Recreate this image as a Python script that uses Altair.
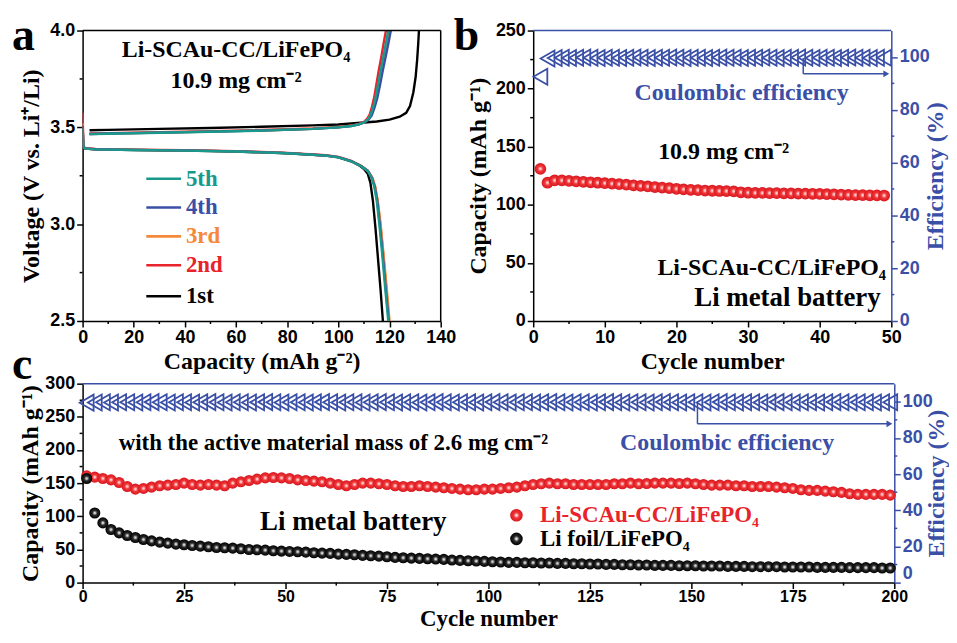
import altair as alt
import pandas as pd

BLUE = "#3a4fa6"
TEAL = "#18998b"
ORANGE = "#f6883a"
RED = "#e8232a"
BLACK = "#000000"
SERIF = "Liberation Serif"
SANS = "Liberation Sans"

# ------------------------------------------------------------------ data
# panel a : charge / discharge voltage profiles (capacity, voltage)
cycle_names = ["1st", "2nd", "3rd", "4th", "5th"]
cycle_colors = [BLACK, RED, ORANGE, BLUE, TEAL]

charge_cap = {
    "1st": [2.7, 10, 30, 50, 70, 90, 100, 110, 115, 120, 124, 126.5, 128, 129.3, 130.2, 130.8, 131.2, 131.5],
    "2nd": [2.7, 10, 30, 50, 70, 90, 100, 105, 108, 110, 111.3, 112.2, 113.1, 114.0, 114.9, 115.8, 116.8, 117.7, 118.6],
    "3rd": [2.7, 10, 30, 50, 70, 90, 100, 105, 108, 110, 111.6, 112.7, 113.7, 114.7, 115.7, 116.7, 117.8, 118.8, 119.8],
    "4th": [2.7, 10, 30, 50, 70, 90, 100, 105, 108, 110, 111.8, 113.0, 114.1, 115.2, 116.3, 117.3, 118.4, 119.5, 120.5],
    "5th": [2.7, 10, 30, 50, 70, 90, 100, 105, 108, 110, 111.5, 112.5, 113.5, 114.5, 115.5, 116.5, 117.5, 118.5, 119.5],
}
charge_volt = {
    "1st": [3.485, 3.487, 3.492, 3.497, 3.503, 3.510, 3.515, 3.525, 3.530, 3.540, 3.555, 3.575, 3.610, 3.680, 3.760, 3.850, 3.930, 4.000],
    "2nd": [3.468, 3.470, 3.475, 3.480, 3.486, 3.494, 3.502, 3.509, 3.518, 3.528, 3.545, 3.565, 3.605, 3.655, 3.725, 3.795, 3.865, 3.935, 4.000],
    "3rd": [3.466, 3.468, 3.473, 3.478, 3.484, 3.493, 3.501, 3.508, 3.516, 3.526, 3.541, 3.561, 3.601, 3.651, 3.721, 3.791, 3.861, 3.931, 4.000],
    "4th": [3.466, 3.468, 3.473, 3.478, 3.484, 3.492, 3.500, 3.507, 3.515, 3.525, 3.540, 3.560, 3.600, 3.650, 3.720, 3.790, 3.860, 3.930, 4.000],
    "5th": [3.465, 3.467, 3.472, 3.477, 3.483, 3.492, 3.500, 3.507, 3.515, 3.525, 3.540, 3.560, 3.600, 3.650, 3.720, 3.790, 3.860, 3.930, 4.000],
}
discharge_cap = {
    "1st": [0, 0.3, 1, 5, 20, 40, 60, 80, 95, 100, 105, 108, 110, 111.5, 112.5, 113.5, 114.5, 115.5, 116.5, 117.4],
    "2nd": [0, 0.3, 1, 5, 20, 40, 60, 80, 95, 100, 105, 109, 111.5, 113.2, 114.3, 115.3, 116.4, 117.5, 118.7, 119.8],
    "3rd": [0, 0.3, 1, 5, 20, 40, 60, 80, 95, 100, 105, 109, 111.6, 113.3, 114.4, 115.4, 116.5, 117.6, 118.9, 120.0],
    "4th": [0, 0.3, 1, 5, 20, 40, 60, 80, 95, 100, 105, 109, 111.5, 113.1, 114.2, 115.2, 116.2, 117.3, 118.5, 119.7],
    "5th": [0, 0.3, 1, 5, 20, 40, 60, 80, 95, 100, 105, 109, 111.5, 113.0, 114.0, 115.0, 116.0, 117.1, 118.3, 119.5],
}
discharge_volt = {
    "1st": [3.500, 3.400, 3.390, 3.386, 3.383, 3.380, 3.375, 3.366, 3.354, 3.345, 3.325, 3.305, 3.285, 3.260, 3.215, 3.120, 2.980, 2.820, 2.660, 2.500],
    "2nd": [3.575, 3.400, 3.392, 3.388, 3.385, 3.382, 3.377, 3.368, 3.356, 3.347, 3.327, 3.300, 3.275, 3.240, 3.195, 3.120, 3.000, 2.850, 2.670, 2.500],
    "3rd": [3.520, 3.400, 3.391, 3.387, 3.384, 3.381, 3.376, 3.367, 3.355, 3.346, 3.326, 3.299, 3.275, 3.240, 3.195, 3.120, 3.000, 2.850, 2.670, 2.500],
    "4th": [3.510, 3.400, 3.391, 3.387, 3.384, 3.381, 3.376, 3.367, 3.355, 3.346, 3.326, 3.299, 3.275, 3.240, 3.195, 3.120, 3.000, 2.850, 2.670, 2.500],
    "5th": [3.500, 3.400, 3.390, 3.386, 3.383, 3.380, 3.375, 3.366, 3.354, 3.345, 3.325, 3.298, 3.274, 3.240, 3.195, 3.120, 3.000, 2.850, 2.670, 2.500],
}
legend_a_order = ["5th", "4th", "3rd", "2nd", "1st"]

# panel b : 10.9 mg cm-2 cell, cycles 1-49
cycles_b = list(range(1, 50))
capacity_b = [131.0, 119.0, 121.0, 121.0, 120.6, 120.2, 119.8, 119.4, 119.0, 118.6,
              118.2, 117.8, 117.3, 116.8, 116.3, 115.8, 115.3, 114.8, 114.3, 113.8,
              113.3, 112.9, 112.6, 112.3, 112.1, 111.9, 111.8, 111.6, 110.8, 110.4,
              110.3, 110.2, 110.1, 110.0, 109.9, 109.8, 109.7, 109.6, 109.5, 109.4,
              109.2, 109.0, 108.8, 108.6, 108.4, 108.3, 108.2, 108.1, 108.0]
efficiency_b = [92.5, 99.4, 99.6, 99.7, 99.6, 99.7, 99.8, 99.7, 99.6, 99.7,
                99.7, 99.6, 99.7, 99.8, 99.7, 99.6, 99.7, 99.7, 99.8, 99.7,
                99.6, 99.7, 99.7, 99.6, 99.7, 99.8, 99.7, 99.7, 99.6, 99.7,
                99.7, 99.8, 99.7, 99.6, 99.7, 99.7, 99.8, 99.7, 99.6, 99.7,
                99.7, 99.6, 99.7, 99.8, 99.7, 99.7, 99.6, 99.7, 99.7]

# panel c : 2.6 mg cm-2 cells, every second cycle 1-199
cycles_c = list(range(1, 200, 2))
capacity_scau = [161, 159, 157, 155, 151, 145, 141, 142, 144, 146,
                 147, 148, 150, 148, 147, 148, 147, 146, 150, 152,
                 154, 156, 158, 158.5, 158, 157, 155, 154, 153, 152,
                 150, 148, 146, 148, 150, 150, 149, 148, 146, 145,
                 145, 146, 145, 144, 143, 142, 141, 140, 140, 141,
                 141, 142, 143, 144, 146, 148, 149, 150, 149, 149,
                 148, 148, 148, 148, 148, 149, 149, 150, 149, 149.5,
                 150, 150, 150, 149.5, 150, 149, 148, 147, 147, 147,
                 146, 146, 145, 145, 145, 144, 143, 142, 140, 139,
                 139, 138, 137, 136, 134, 133, 133, 133, 133, 132]
capacity_foil = [157, 105, 90, 80, 75, 71, 68, 65, 63, 61,
                 59.5, 58, 57, 56, 55, 54, 53, 52.5, 52, 51,
                 50, 49.5, 49, 48, 47.5, 47, 46.5, 46, 45, 44.5,
                 44, 43, 42.5, 42, 41, 40.5, 40, 39, 38, 37.5,
                 37, 36.5, 36, 35.5, 35, 34, 33.5, 33, 32.5, 32,
                 31.5, 31, 30.5, 30.5, 30, 30, 29.5, 29.5, 29, 29,
                 28.5, 28.5, 28, 28, 27.5, 27.5, 27, 27, 26.5, 26.5,
                 26, 26, 26, 25.5, 25.5, 25.5, 25, 25, 25, 24.5,
                 24.5, 24.5, 24, 24, 24, 24, 23.5, 23.5, 23.5, 23.5,
                 23, 23, 23, 23, 22.5, 22.5, 22.5, 22.5, 22, 22]
efficiency_c = [99.5, 99.6, 99.7, 99.6, 99.7, 99.7, 99.6, 99.7, 99.8, 99.7,
                99.6, 99.7, 99.7, 99.6, 99.7, 99.8, 99.7, 99.6, 99.7, 99.7,
                99.6, 99.7, 99.8, 99.7, 99.6, 99.7, 99.7, 99.6, 99.7, 99.8,
                99.7, 99.6, 99.7, 99.7, 99.6, 99.7, 99.8, 99.7, 99.6, 99.7,
                99.7, 99.6, 99.7, 99.8, 99.7, 99.6, 99.7, 99.7, 99.6, 99.7,
                99.8, 99.7, 99.6, 99.7, 99.7, 99.6, 99.7, 99.8, 99.7, 99.6,
                99.7, 99.7, 99.6, 99.7, 99.8, 99.7, 99.6, 99.7, 99.7, 99.6,
                99.7, 99.8, 99.7, 99.6, 99.7, 99.7, 99.6, 99.7, 99.8, 99.7,
                99.6, 99.7, 99.7, 99.6, 99.7, 99.8, 99.7, 99.6, 99.7, 99.7,
                99.6, 99.7, 99.8, 99.7, 99.6, 99.7, 99.7, 99.6, 99.7, 99.7]

series_c = ["Li-SCAu-CC/LiFePO\u2084", "Li foil/LiFePO\u2084"]

# axis ticks (major labelled, minor unlabelled)
ticks_a_x = [0, 20, 40, 60, 80, 100, 120, 140]
minor_a_x = [10, 30, 50, 70, 90, 110, 130]
ticks_a_y = [2.5, 3.0, 3.5, 4.0]
minor_a_y = [2.75, 3.25, 3.75]
ticks_b_x = [0, 10, 20, 30, 40, 50]
minor_b_x = [5, 15, 25, 35, 45]
ticks_b_y = [0, 50, 100, 150, 200, 250]
minor_b_y = [25, 75, 125, 175, 225]
ticks_eff = [0, 20, 40, 60, 80, 100]
minor_eff = [10, 30, 50, 70, 90]
ticks_c_x = [0, 25, 50, 75, 100, 125, 150, 175, 200]
minor_c_x = [12.5, 37.5, 62.5, 87.5, 112.5, 137.5, 162.5, 187.5]
ticks_c_y = [0, 50, 100, 150, 200, 250, 300]
minor_c_y = [25, 75, 125, 175, 225, 275]

# ------------------------------------------------------------------ helpers
W_A, H_A = 360, 292
W_B, H_B = 360, 292
W_C, H_C = 816, 200
TICK = 6
MINOR = 3


def mk_axis(values, title, orient, color=BLACK, fmt=None, title_pad=6,
            title_angle=None, title_size=24, label_size=18, label_pad=2, flush=False):
    kw = dict(values=values, orient=orient, title=title, grid=False,
              tickSize=TICK, labelOverlap=False, labelFlush=flush,
              domainColor=color, tickColor=color, labelColor=color, titleColor=color,
              domainWidth=1.5, tickWidth=1.5, labelPadding=label_pad, titlePadding=title_pad,
              labelFont=SANS, labelFontWeight="bold", labelFontSize=label_size,
              titleFont=SERIF, titleFontWeight="bold", titleFontSize=title_size)
    if fmt:
        kw["format"] = fmt
    if title_angle is not None:
        kw["titleAngle"] = title_angle
    return alt.Axis(**kw)


def qx(field, domain, axis):
    return alt.X(field, type="quantitative", scale=alt.Scale(domain=domain, nice=False, zero=False), axis=axis)


def qy(field, domain, axis):
    return alt.Y(field, type="quantitative", scale=alt.Scale(domain=domain, nice=False, zero=False), axis=axis)


def texts(rows, X, Y, size, color=BLACK, align="center"):
    return alt.Chart(pd.DataFrame(rows)).mark_text(
        font=SERIF, fontWeight="bold", fontSize=size, color=color, align=align, baseline="middle"
    ).encode(x=X("x"), y=Y("y"), text="t:N")


def letter(ch, px, py):
    return alt.Chart(pd.DataFrame({"t": [ch]})).mark_text(
        font=SERIF, fontWeight="bold", fontSize=46, align="left", baseline="alphabetic", color=BLACK
    ).encode(x=alt.value(px), y=alt.value(py), text="t:N")


def frame(color, x0, x1, y0, y1):
    return alt.Chart(pd.DataFrame({"k": [0]})).mark_rule(color=color, strokeWidth=1.5).encode(
        x=alt.value(x0), x2=alt.value(x1), y=alt.value(y0), y2=alt.value(y1))


def minor_x(vals, X, h, color=BLACK):
    return alt.Chart(pd.DataFrame({"v": vals})).mark_rule(color=color, strokeWidth=1.5).encode(
        x=X("v"), y=alt.value(h), y2=alt.value(h + MINOR))


def minor_y(vals, Y, x0, x1, color=BLACK):
    return alt.Chart(pd.DataFrame({"v": vals})).mark_rule(color=color, strokeWidth=1.5).encode(
        y=Y("v"), x=alt.value(x0), x2=alt.value(x1))


red_grad = alt.RadialGradient(gradient="radial", stops=[
    alt.GradientStop(offset=0.0, color="#ffffff"),
    alt.GradientStop(offset=0.18, color="#ffb3b3"),
    alt.GradientStop(offset=0.42, color="#f0383a"),
    alt.GradientStop(offset=1.0, color="#d8161e")])
black_grad = alt.RadialGradient(gradient="radial", stops=[
    alt.GradientStop(offset=0.0, color="#ffffff"),
    alt.GradientStop(offset=0.18, color="#bdbdbd"),
    alt.GradientStop(offset=0.42, color="#2a2a2a"),
    alt.GradientStop(offset=1.0, color="#000000")])

# ------------------------------------------------------------------ panel a
AX_AX = mk_axis(ticks_a_x, "Capacity (mAh g\u207b\u00b2)", "bottom", title_pad=3)
AX_AY = mk_axis(ticks_a_y, "Voltage (V vs. Li\u207a/Li)", "left", fmt=".1f", title_pad=6)
XA = lambda f: qx(f, [0, 140], AX_AX)
YA = lambda f: qy(f, [2.5, 4.0], AX_AY)

rows = []
for name in cycle_names:
    for seg, caps, volts in (("c", charge_cap[name], charge_volt[name]),
                             ("d", discharge_cap[name], discharge_volt[name])):
        for i, (c, v) in enumerate(zip(caps, volts)):
            rows.append({"cycle": name, "seg": name + seg, "idx": i, "cap": c, "volt": v})
df_a = pd.DataFrame(rows)

color_a = alt.Color("cycle:N", scale=alt.Scale(domain=cycle_names, range=cycle_colors), legend=None)

lines_a = alt.Chart(df_a).mark_line(strokeWidth=2.4, clip=True).encode(
    x=XA("cap"), y=YA("volt"), color=color_a, detail="seg:N", order="idx:Q")

leg_a = pd.DataFrame({"cycle": legend_a_order, "y": [3.235, 3.086, 2.937, 2.788, 2.628]})
leg_a["x0"] = 24.9
leg_a["x1"] = 38.5
leg_a["xt"] = 40.4
leg_lines_a = alt.Chart(leg_a).mark_rule(strokeWidth=2.6).encode(
    x=XA("x0"), x2="x1", y=YA("y"), color=color_a)
leg_text_a = alt.Chart(leg_a).mark_text(font=SERIF, fontWeight="bold", fontSize=23, align="left",
                                        baseline="middle").encode(
    x=XA("xt"), y=YA("y"), text="cycle:N", color=color_a)

ann_a = texts([{"x": 60, "y": 3.90, "t": "Li-SCAu-CC/LiFePO\u2084"},
               {"x": 60, "y": 3.74, "t": "10.9 mg cm\u207b\u00b2"}], XA, YA, 24)

panel_a = alt.layer(
    lines_a, leg_lines_a, leg_text_a, ann_a,
    minor_x(minor_a_x, XA, H_A), minor_y(minor_a_y, YA, -MINOR, 0),
    frame(BLACK, 0, W_A, 0, 0), frame(BLACK, W_A, W_A, 0, H_A),
    letter("a", -71, 20),
).properties(width=W_A, height=H_A)

# ------------------------------------------------------------------ panel b
AX_BX = mk_axis(ticks_b_x, "Cycle number", "bottom", title_pad=3)
AX_BY = mk_axis(ticks_b_y, "Capacity (mAh g\u207b\u00b9)", "left", title_pad=5)
AX_BE = mk_axis(ticks_eff, "Efficiency (%)", "right", color=BLUE, title_pad=18, title_angle=270)
XB = lambda f: qx(f, [0, 50], AX_BX)
YB = lambda f: qy(f, [0, 250], AX_BY)
EB = lambda f: qy(f, [0, 110], AX_BE)

df_b = pd.DataFrame({"cycle": cycles_b, "cap": capacity_b, "eff": efficiency_b})

circles_b = alt.Chart(df_b).mark_circle(size=140, fill=red_grad, opacity=1).encode(x=XB("cycle"), y=YB("cap"))
ann_b_cap = alt.layer(
    texts([{"x": 26.6, "y": 145.5, "t": "10.9 mg cm\u207b\u00b2"}], XB, YB, 24),
    texts([{"x": 33.3, "y": 45.4, "t": "Li-SCAu-CC/LiFePO\u2084"}], XB, YB, 24),
    texts([{"x": 35.5, "y": 19.7, "t": "Li metal battery"}], XB, YB, 27),
)
cap_layer_b = alt.layer(circles_b, ann_b_cap,
                        minor_x(minor_b_x, XB, H_B), minor_y(minor_b_y, YB, -MINOR, 0),
                        frame(BLUE, 0, W_B, 0, 0), letter("b", -80, 20))

tri_b = alt.Chart(df_b).mark_point(shape="triangle-left", filled=False, color=BLUE, size=260,
                                   strokeWidth=1.8, opacity=1).encode(x=XB("cycle"), y=EB("eff"))
arrow_b = pd.DataFrame({"x": [37.7], "ytop": [99.6], "ybot": [93.6], "xend": [49.0], "xhead": [49.3]})
arrow_b_v = alt.Chart(arrow_b).mark_rule(color=BLUE, strokeWidth=1.5).encode(
    x=XB("x"), y=EB("ytop"), y2="ybot")
arrow_b_h = alt.Chart(arrow_b).mark_rule(color=BLUE, strokeWidth=1.5).encode(
    x=XB("x"), x2="xend", y=EB("ybot"))
arrow_b_head = alt.Chart(arrow_b).mark_point(shape="triangle-right", filled=True, color=BLUE, size=45,
                                             opacity=1).encode(x=XB("xhead"), y=EB("ybot"))
ce_b = texts([{"x": 29.1, "y": 86.5, "t": "Coulombic efficiency"}], XB, EB, 24, color=BLUE)
eff_layer_b = alt.layer(tri_b, arrow_b_v, arrow_b_h, arrow_b_head, ce_b,
                        minor_y(minor_eff, EB, W_B, W_B + MINOR, BLUE))

panel_b = alt.layer(cap_layer_b, eff_layer_b).resolve_scale(y="independent").properties(width=W_B, height=H_B)

# ------------------------------------------------------------------ panel c
AX_CX = mk_axis(ticks_c_x, "Cycle number", "bottom", title_pad=3, title_size=23, label_size=16, label_pad=0)
AX_CY = mk_axis(ticks_c_y, "Capacity (mAh g\u207b\u00b9)", "left", title_pad=2)
AX_CE = mk_axis(ticks_eff, "Efficiency (%)", "right", color=BLUE, title_pad=16, title_angle=270, flush=True)
XC = lambda f: qx(f, [0, 200], AX_CX)
YC = lambda f: qy(f, [0, 300], AX_CY)
EC = lambda f: qy(f, [0, 110], AX_CE)

df_red = pd.DataFrame({"cycle": cycles_c, "cap": capacity_scau})
df_blk = pd.DataFrame({"cycle": cycles_c, "cap": capacity_foil})
df_ce = pd.DataFrame({"cycle": cycles_c, "eff": efficiency_c})

red_c = alt.Chart(df_red).mark_circle(size=125, fill=red_grad, opacity=1).encode(x=XC("cycle"), y=YC("cap"))
black_c = alt.Chart(df_blk).mark_circle(size=125, fill=black_grad, opacity=1).encode(x=XC("cycle"), y=YC("cap"))

leg_c = pd.DataFrame({"t": series_c, "x": [106.9, 106.9], "xt": [112.7, 112.7], "y": [101.5, 66.0]})
leg_c_red = alt.Chart(leg_c.iloc[[0]]).mark_circle(size=160, fill=red_grad, opacity=1).encode(
    x=XC("x"), y=YC("y"))
leg_c_blk = alt.Chart(leg_c.iloc[[1]]).mark_circle(size=160, fill=black_grad, opacity=1).encode(
    x=XC("x"), y=YC("y"))
leg_c_t1 = alt.Chart(leg_c.iloc[[0]]).mark_text(font=SERIF, fontWeight="bold", fontSize=23, align="left",
                                                baseline="middle", color=RED).encode(
    x=XC("xt"), y=YC("y"), text="t:N")
leg_c_t2 = alt.Chart(leg_c.iloc[[1]]).mark_text(font=SERIF, fontWeight="bold", fontSize=23, align="left",
                                                baseline="middle", color=BLACK).encode(
    x=XC("xt"), y=YC("y"), text="t:N")
ann_c = alt.layer(
    texts([{"x": 61.8, "y": 210, "t": "with the active material mass of 2.6 mg cm\u207b\u00b2"}], XC, YC, 23),
    texts([{"x": 66.7, "y": 92, "t": "Li metal battery"}], XC, YC, 27),
)
cap_layer_c = alt.layer(red_c, black_c, leg_c_red, leg_c_blk, leg_c_t1, leg_c_t2, ann_c,
                        minor_x(minor_c_x, XC, H_C), minor_y(minor_c_y, YC, -MINOR, 0),
                        frame(BLUE, 0, W_C, 0, 0), letter("c", -71, -5))

tri_c = alt.Chart(df_ce).mark_point(shape="triangle-left", filled=False, color=BLUE, size=260,
                                    strokeWidth=1.8, opacity=1).encode(x=XC("cycle"), y=EC("eff"))
arrow_c = pd.DataFrame({"x": [151.5], "ytop": [99.6], "ybot": [87.8], "xend": [198.2], "xhead": [198.8]})
arrow_c_v = alt.Chart(arrow_c).mark_rule(color=BLUE, strokeWidth=1.5).encode(
    x=XC("x"), y=EC("ytop"), y2="ybot")
arrow_c_h = alt.Chart(arrow_c).mark_rule(color=BLUE, strokeWidth=1.5).encode(
    x=XC("x"), x2="xend", y=EC("ybot"))
arrow_c_head = alt.Chart(arrow_c).mark_point(shape="triangle-right", filled=True, color=BLUE, size=45,
                                             opacity=1).encode(x=XC("xhead"), y=EC("ybot"))
ce_c = texts([{"x": 158.8, "y": 77, "t": "Coulombic efficiency"}], XC, EC, 24, color=BLUE)
eff_layer_c = alt.layer(tri_c, arrow_c_v, arrow_c_h, arrow_c_head, ce_c,
                        minor_y(minor_eff, EC, W_C, W_C + MINOR, BLUE))

panel_c = alt.layer(cap_layer_c, eff_layer_c).resolve_scale(y="independent").properties(width=W_C, height=H_C)

# ------------------------------------------------------------------ layout
row1 = alt.hconcat(panel_a, panel_b, spacing=93, bounds="flush")
chart = alt.vconcat(row1, panel_c, spacing=-32).properties(
    padding={"left": 4, "top": 4, "right": 0, "bottom": 0}
).configure_view(strokeWidth=0)

chart.save("out.html", embed_options={"renderer": "svg", "actions": False})
